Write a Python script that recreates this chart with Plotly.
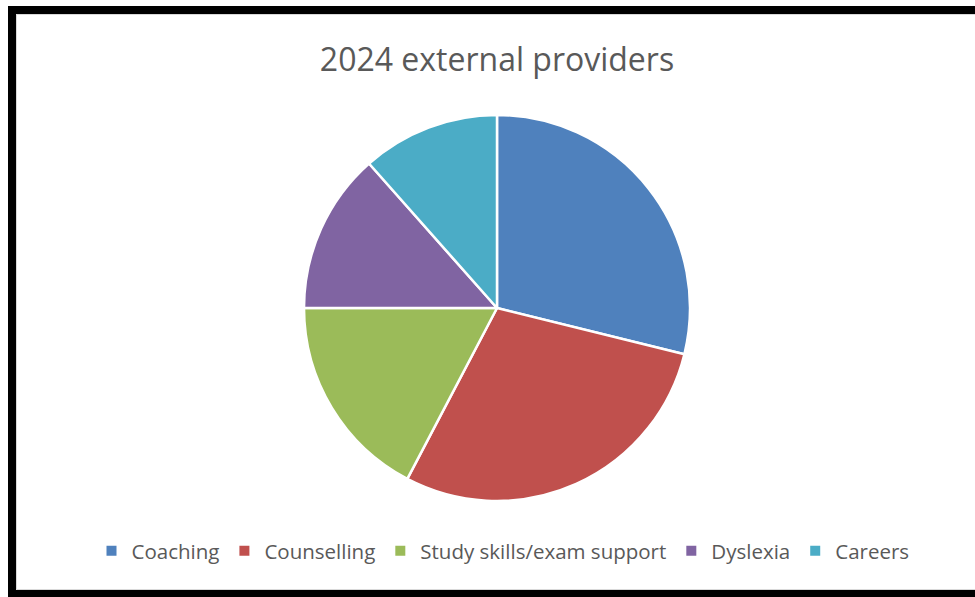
import plotly.graph_objects as go

# External provider counts, 2024
categories = ["Coaching", "Counselling", "Study skills/exam support", "Dyslexia", "Careers"]
counts = [15, 15, 9, 7, 6]
colors = ["#4F81BD", "#C0504D", "#9BBB59", "#8064A2", "#4BACC6"]

W, H = 975, 597


def px_x(x):
    return x / W


def px_y(y):
    return 1 - y / H


# pie centre and radius in pixels
cx, cy, r = 497, 308, 193

fig = go.Figure(
    go.Pie(
        labels=categories,
        values=counts,
        sort=False,
        direction="clockwise",
        rotation=0,
        textinfo="none",
        hoverinfo="label+value+percent",
        marker=dict(colors=colors, line=dict(color="white", width=2.5)),
        domain=dict(x=[px_x(cx - r), px_x(cx + r)], y=[px_y(cy + r), px_y(cy - r)]),
    )
)

frame = "black"
shapes = [
    # thick dark frame on left, top and bottom
    dict(type="rect", x0=px_x(8), x1=px_x(16), y0=px_y(597), y1=px_y(6)),
    dict(type="rect", x0=px_x(8), x1=px_x(975), y0=px_y(14), y1=px_y(6)),
    dict(type="rect", x0=px_x(8), x1=px_x(975), y0=px_y(597), y1=px_y(590)),
]
for s in shapes:
    s.update(xref="paper", yref="paper", fillcolor=frame, line=dict(width=0), layer="above")
# faint inner edge of the chart area
shapes.append(dict(type="rect", xref="paper", yref="paper",
                   x0=px_x(16.5), x1=px_x(976), y0=px_y(589.5), y1=px_y(14.5),
                   line=dict(color="#D9D9D9", width=1), fillcolor="rgba(0,0,0,0)"))

fig.update_layout(
    width=W,
    height=H,
    margin=dict(l=0, r=0, t=0, b=0),
    paper_bgcolor="white",
    plot_bgcolor="white",
    shapes=shapes,
    title=dict(
        text="2024 external providers",
        x=px_x(497),
        xanchor="center",
        y=px_y(60),
        yanchor="middle",
        font=dict(family="Open Sans", size=32, color="#595959"),
    ),
    showlegend=True,
    legend=dict(
        orientation="h",
        x=px_x(503),
        xanchor="center",
        y=px_y(551),
        yanchor="middle",
        font=dict(family="Open Sans", size=20.5, color="#595959"),
        itemsizing="constant",
        bgcolor="rgba(0,0,0,0)",
    ),
)

fig.write_html("out.html")
